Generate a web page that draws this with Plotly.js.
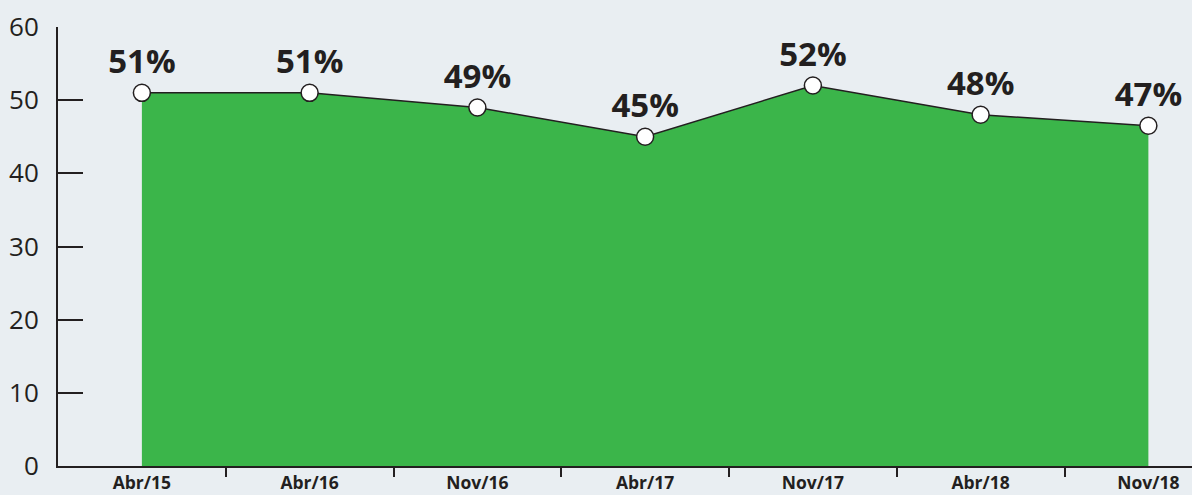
<!DOCTYPE html>
<html><head><meta charset="utf-8">
<script src="https://cdn.plot.ly/plotly-3.0.1.min.js"></script>
<style>html,body{margin:0;padding:0;background:#e9eef2;}#chart{width:1192px;height:495px;}</style>
</head><body><div id="chart"></div>
<script>
var categories = ['Abr/15','Abr/16','Nov/16','Abr/17','Nov/17','Abr/18','Nov/18'];
var values = [51, 51, 49, 45, 52, 48, 46.5];
var labels = ['51%','51%','49%','45%','52%','48%','47%'];
var yTicks = [0,10,20,30,40,50,60];

var idx = categories.map(function(_, i){ return i; });
var halfTicks = idx.slice(0, -1).map(function(i){ return i + 0.5; });

var ink = '#231f20';
var trace = {
  x: idx, y: values, type: 'scatter', mode: 'lines+markers+text',
  fill: 'tozeroy', fillcolor: '#3bb54a',
  line: {color: ink, width: 1.5},
  marker: {size: 17, color: '#ffffff', line: {color: ink, width: 1.5}},
  text: labels, textposition: 'top center',
  textfont: {family: 'Open Sans, sans-serif', size: 33, color: ink, weight: 700},
  hoverinfo: 'skip', cliponaxis: false
};
var tickTrace = {x: halfTicks, y: halfTicks.map(function(){return null;}), xaxis: 'x2', yaxis: 'y', type: 'scatter', mode: 'none', hoverinfo: 'skip', showlegend: false};

var xr = [-0.5, 6.26];
var layout = {
  width: 1192, height: 495,
  paper_bgcolor: '#e9eef2', plot_bgcolor: '#e9eef2',
  margin: {l: 58, r: 0, t: 27, b: 29},
  showlegend: false,
  xaxis: {
    range: xr, tickmode: 'array', tickvals: idx, ticktext: categories,
    ticks: '', showgrid: false, zeroline: false,
    showline: true, linecolor: ink, linewidth: 2,
    tickfont: {family: 'Open Sans, sans-serif', size: 17.5, color: ink, weight: 700},
    ticklabelstandoff: 0
  },
  xaxis2: {
    range: xr, overlaying: 'x', side: 'bottom', tickmode: 'array', tickvals: halfTicks,
    ticktext: halfTicks.map(function(){return '';}),
    ticks: 'outside', ticklen: 10, tickwidth: 2, tickcolor: ink,
    showgrid: false, zeroline: false, showline: false
  },
  yaxis: {
    range: [0, 60], tickmode: 'array', tickvals: yTicks,
    ticks: 'inside', ticklen: 25, tickwidth: 2, tickcolor: ink,
    showline: true, linecolor: ink, linewidth: 2,
    showgrid: false, zeroline: false,
    tickfont: {family: 'Open Sans, sans-serif', size: 26, color: ink},
    ticklabelstandoff: 12
  }
};
Plotly.newPlot('chart', [trace, tickTrace], layout, {displayModeBar: false, staticPlot: true});
</script></body></html>
